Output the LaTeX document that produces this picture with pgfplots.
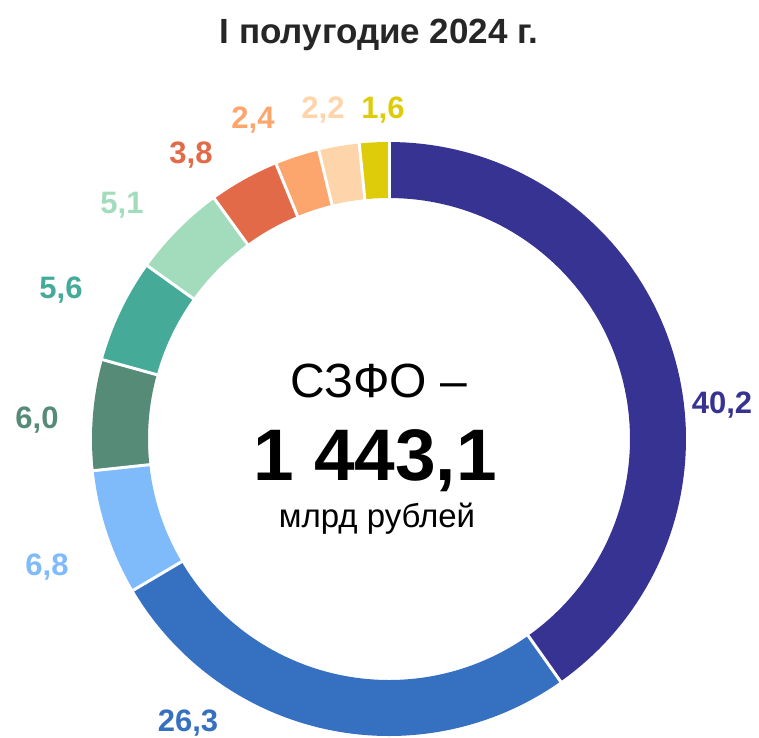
\documentclass[border=0pt]{standalone}
\usepackage{pgfplots}
\usepackage{pgfplotstable}
\pgfplotsset{compat=1.18}
\usepackage{fontspec}
\setmainfont{Liberation Sans}
\definecolor{c1}{HTML}{373393}
\definecolor{c2}{HTML}{3670C0}
\definecolor{c3}{HTML}{7FBAFB}
\definecolor{c4}{HTML}{568B78}
\definecolor{c5}{HTML}{45AB98}
\definecolor{c6}{HTML}{A2DCBC}
\definecolor{c7}{HTML}{E36A48}
\definecolor{c8}{HTML}{FCA66E}
\definecolor{c9}{HTML}{FED5AA}
\definecolor{c10}{HTML}{DECC0A}
\definecolor{titlegray}{HTML}{262626}

\pgfplotstableread{
value color label lx ly
40.2 c1 {40,2} 722 413
26.3 c2 {26,3} 188 731
6.8 c3 {6,8} 47 575
6.0 c4 {6,0} 37 428
5.6 c5 {5,6} 61 298
5.1 c6 {5,1} 122 213
3.8 c7 {3,8} 191 163
2.4 c8 {2,4} 253 128
2.2 c9 {2,2} 323 118
1.6 c10 {1,6} 383 118
}\slices

\begin{document}
\begin{tikzpicture}
\begin{axis}[
  x=1pt, y=1pt, y dir=reverse,
  xmin=0, xmax=759, ymin=0, ymax=737,
  hide axis, clip=false, scale only axis,
]
\def\cum{0}
\pgfplotsforeachungrouped \i in {0,...,9} {
  \pgfplotstablegetelem{\i}{value}\of\slices \let\v=\pgfplotsretval
  \pgfplotstablegetelem{\i}{color}\of\slices \let\c=\pgfplotsretval
  \pgfmathsetmacro\a{-90+3.6*\cum}
  \pgfmathsetmacro\cumnew{\cum+\v}
  \pgfmathsetmacro\b{-90+3.6*\cumnew}
  \edef\cmd{\noexpand\addplot[draw=\c, line width=56pt, line cap=butt, domain=\a:\b, samples=90] ({389+269*cos(x)},{439+269*sin(x)});}
  \cmd
  \global\let\cum\cumnew
}
\def\cum{0}
\pgfplotsforeachungrouped \i in {0,...,9} {
  \pgfplotstablegetelem{\i}{value}\of\slices \let\v=\pgfplotsretval
  \pgfmathsetmacro\cumnew{\cum+\v}
  \pgfmathsetmacro\b{-90+3.6*\cumnew}
  \edef\cmd{\noexpand\addplot[draw=white, line width=3pt, domain=236:300, samples=2] ({389+x*cos(\b)},{439+x*sin(\b)});}
  \cmd
  \global\let\cum\cumnew
}
\pgfplotsforeachungrouped \i in {0,...,9} {
  \pgfplotstablegetelem{\i}{color}\of\slices \let\c=\pgfplotsretval
  \pgfplotstablegetelem{\i}{label}\of\slices \let\l=\pgfplotsretval
  \pgfplotstablegetelem{\i}{lx}\of\slices \let\lx=\pgfplotsretval
  \pgfplotstablegetelem{\i}{ly}\of\slices \let\ly=\pgfplotsretval
  \edef\cmd{\noexpand\node[anchor=base, inner sep=0pt, text=\c, font=\noexpand\fontsize{31}{31}\noexpand\selectfont\noexpand\bfseries] at (axis cs:\lx,\ly) {\l};}
  \cmd
}
\node[anchor=base, inner sep=0pt, text=titlegray, font=\fontsize{35}{35}\selectfont\bfseries] at (axis cs:379,43) {I полугодие 2024 г.};
\node[anchor=base, inner sep=0pt, font=\fontsize{48}{48}\selectfont] at (axis cs:379,397) {СЗФО –};
\node[anchor=base, inner sep=0pt, font=\fontsize{73}{73}\selectfont\bfseries] at (axis cs:375,480) {1 443,1};
\node[anchor=base, inner sep=0pt, font=\fontsize{33}{33}\selectfont] at (axis cs:377,527) {млрд рублей};
\end{axis}
\pgfresetboundingbox
\path (current axis.south west) rectangle (current axis.north east);
\end{tikzpicture}
\end{document}
